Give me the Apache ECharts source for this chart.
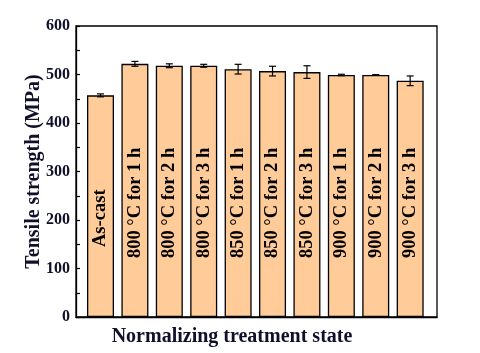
<!DOCTYPE html>
<html>
<head>
<meta charset="utf-8">
<script src="https://cdn.jsdelivr.net/npm/echarts@6/dist/echarts.min.js"></script>
<style>
  html, body { margin: 0; padding: 0; background: #fff; }
  #main { width: 480px; height: 353px; }
</style>
</head>
<body>
<div id="main"></div>
<script>
// categories (treatment state)
var states = ['As-cast', '800 °C for 1 h', '800 °C for 2 h', '800 °C for 3 h',
  '850 °C for 1 h', '850 °C for 2 h', '850 °C for 3 h',
  '900 °C for 1 h', '900 °C for 2 h', '900 °C for 3 h'];
// tensile strength (MPa)
var strength = [457, 522, 518, 518, 511, 507, 505, 499, 499, 487];
// standard deviation (MPa)
var errors = [3, 5, 4, 3, 10, 10, 13, 1.5, 0.8, 10];
var yTicks = [0, 100, 200, 300, 400, 500, 600];

var FONT = '"Liberation Serif", "Times New Roman", serif';
var TXT = '#10102a';

var chart = echarts.init(document.getElementById('main'), null, { renderer: 'canvas' });

var barData = strength.map(function (v, i) {
  return {
    value: [i, v],
    label: {
      // As-cast label sits a bit higher
      distance: i === 0 ? 70 : 59
    }
  };
});
var errData = strength.map(function (v, i) {
  return [i, v - errors[i], v + errors[i]];
});

chart.setOption({
  animation: false,
  grid: {
    left: 76, right: 43, top: 26, bottom: 36,
    show: true,
    borderColor: '#000',
    borderWidth: 1.3,
    backgroundColor: 'transparent'
  },
  xAxis: {
    type: 'value',
    min: -0.712,
    max: 9.78,
    name: 'Normalizing treatment state',
    nameLocation: 'middle',
    nameGap: 10,
    nameMoveOverlap: false,
    nameTextStyle: {
      fontFamily: FONT, fontWeight: 'bold', fontSize: 20, color: TXT,
      padding: [0, 49, 0, 0]
    },
    axisLine: { show: true, onZero: false, lineStyle: { color: '#000', width: 1.3 } },
    axisTick: { show: false },
    axisLabel: { show: false },
    splitLine: { show: false }
  },
  yAxis: {
    type: 'value',
    min: yTicks[0],
    max: yTicks[yTicks.length - 1],
    interval: 100,
    name: 'Tensile strength (MPa)',
    nameLocation: 'middle',
    nameGap: 32,
    nameMoveOverlap: false,
    nameTextStyle: { fontFamily: FONT, fontWeight: 'bold', fontSize: 20, color: TXT },
    axisLine: { show: true, onZero: false, lineStyle: { color: '#000', width: 1.3 } },
    axisTick: { show: true, inside: true, length: 4, lineStyle: { color: '#000', width: 1.2 } },
    minorTick: { show: true, splitNumber: 2, length: 4, lineStyle: { color: '#000', width: 1.2 } },
    axisLabel: {
      margin: 6,
      fontFamily: FONT, fontWeight: 'bold', fontSize: 16, color: TXT
    },
    splitLine: { show: false }
  },
  series: [{
    type: 'bar',
    data: barData,
    barWidth: 27,
    itemStyle: { color: '#ffcc99', borderColor: '#000', borderWidth: 1.3 },
    label: {
      show: true,
      position: 'insideBottom',
      rotate: 90,
      align: 'left',
      verticalAlign: 'middle',
      formatter: function (p) { return states[p.dataIndex]; },
      fontFamily: FONT, fontWeight: 'bold', fontSize: 18.5, color: '#000'
    },
    z: 2
  }, {
    // error bars
    type: 'custom',
    data: errData,
    z: 3,
    renderItem: function (params, api) {
      var lo = api.coord([api.value(0), api.value(1)]);
      var hi = api.coord([api.value(0), api.value(2)]);
      var cap = 3.5;
      var st = { stroke: '#000', lineWidth: 1.2 };
      return {
        type: 'group',
        children: [
          { type: 'line', shape: { x1: lo[0], y1: lo[1], x2: hi[0], y2: hi[1] }, style: st },
          { type: 'line', shape: { x1: lo[0] - cap, y1: lo[1], x2: lo[0] + cap, y2: lo[1] }, style: st },
          { type: 'line', shape: { x1: hi[0] - cap, y1: hi[1], x2: hi[0] + cap, y2: hi[1] }, style: st }
        ]
      };
    }
  }]
});
</script>
</body>
</html>
